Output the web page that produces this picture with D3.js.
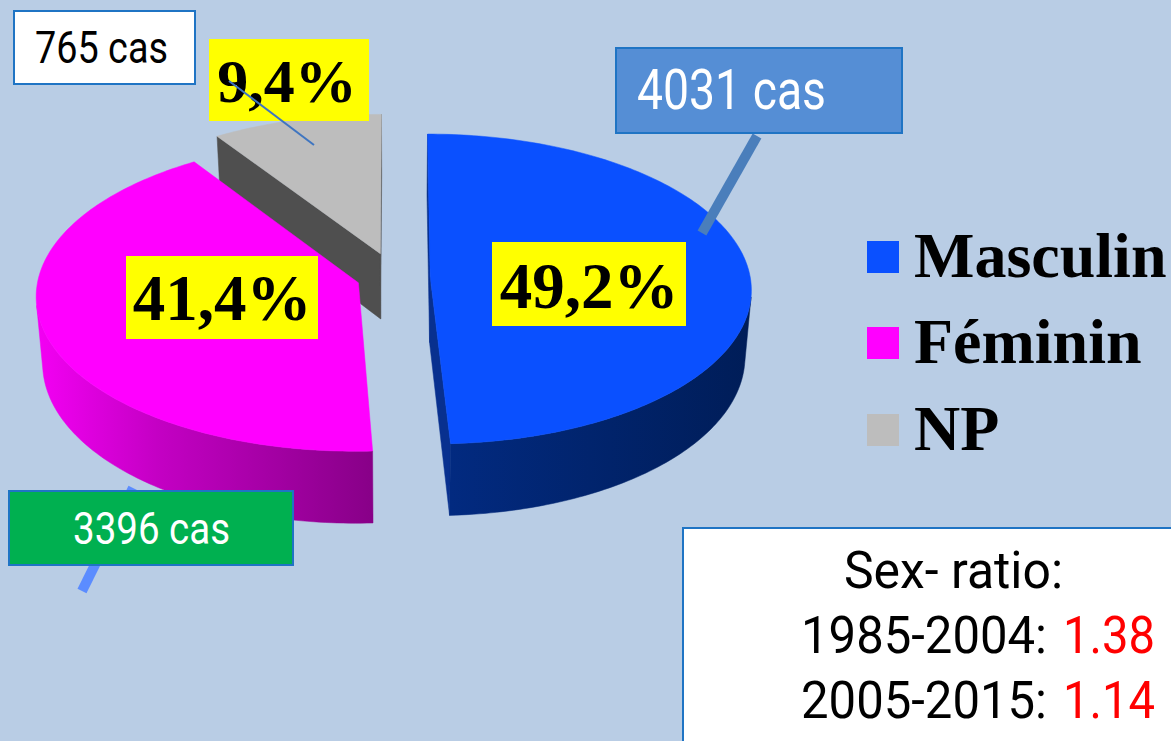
<!DOCTYPE html>
<html><head><meta charset="utf-8">
<script src="https://cdn.jsdelivr.net/npm/d3@7"></script>
<style>html,body{margin:0;padding:0;background:#b9cde5;overflow:hidden} svg{display:block}</style>
</head><body>
<svg id="c" width="1171" height="741"></svg>
<script>
// ---- data ----
const categories = ["Masculin", "Féminin", "NP"];
const cases = [4031, 3396, 765];
const percentLabels = ["49,2%", "41,4%", "9,4%"];
const caseLabels = ["4031 cas", "3396 cas", "765 cas"];
const ratioTitle = "Sex- ratio:";
const ratioPeriods = ["1985-2004", "2005-2015"];
const ratioValues = ["1.38", "1.14"];

// ---- styles ----
const topColors = ["#0a50ff", "#ff00ff", "#bdbdbd"];
const radialWallColors = ["#08308f", "#a000a0", "#4f4f4f"];
const explode = [0.11, 0.12, 0.16];

const svg = d3.select("#c");
svg.append("rect").attr("width", 1171).attr("height", 741).attr("fill", "#b9cde5");

const defs = svg.append("defs");
const gBlue = defs.append("linearGradient").attr("id", "wall0").attr("gradientUnits", "userSpaceOnUse")
  .attr("x1", 450).attr("x2", 750).attr("y1", 0).attr("y2", 0);
gBlue.append("stop").attr("offset", 0).attr("stop-color", "#022a80");
gBlue.append("stop").attr("offset", 1).attr("stop-color", "#001d58");
const gMag = defs.append("linearGradient").attr("id", "wall1").attr("gradientUnits", "userSpaceOnUse")
  .attr("x1", 40).attr("x2", 375).attr("y1", 0).attr("y2", 0);
gMag.append("stop").attr("offset", 0).attr("stop-color", "#f200f2");
gMag.append("stop").attr("offset", 0.35).attr("stop-color", "#c400c4");
gMag.append("stop").attr("offset", 1).attr("stop-color", "#870087");
const gGray = defs.append("linearGradient").attr("id", "wall2").attr("gradientUnits", "userSpaceOnUse")
  .attr("x1", 200).attr("x2", 400).attr("y1", 0).attr("y2", 0);
gGray.append("stop").attr("offset", 0).attr("stop-color", "#555");
gGray.append("stop").attr("offset", 1).attr("stop-color", "#444");

// ---- projection (perspective view of a tilted disc) ----
const cx = 395, cy = 277, rx = 320, ry = 154, k = 0.08, D = 66, alpha = 0.018;
function proj(u, v, bottom) {
  const s = 1 / (1 + k * v);
  let x = cx + rx * u * s, y = cy - ry * v * s;
  if (bottom) { y += D * s; x -= (x - cx) * alpha; }
  return [x, y];
}
function area(pts) {
  let a = 0;
  for (let i = 0; i < pts.length; i++) {
    const p = pts[i], q = pts[(i + 1) % pts.length];
    a += p[0] * q[1] - q[0] * p[1];
  }
  return a / 2;
}

const pie = d3.pie().sort(null).value(d => d);
const arcs = pie(cases);
const line = d3.line();
const wallLayer = svg.append("g");
const topLayer = svg.append("g");

arcs.forEach((a, i) => {
  const mid = (a.startAngle + a.endAngle) / 2;
  const eu = explode[i] * Math.sin(mid), ev = explode[i] * Math.cos(mid);
  const n = Math.max(8, Math.ceil((a.endAngle - a.startAngle) / (Math.PI / 180)));
  const plane = [[eu, ev]];
  for (let j = 0; j <= n; j++) {
    const t = a.startAngle + (a.endAngle - a.startAngle) * j / n;
    plane.push([eu + Math.sin(t), ev + Math.cos(t)]);
  }
  const top = plane.map(p => proj(p[0], p[1], false));
  const bot = plane.map(p => proj(p[0], p[1], true));
  const m = plane.length;
  // radial walls
  const radialEdges = [[0, 1], [m - 1, 0]];
  radialEdges.forEach(([p, q]) => {
    const quad = [top[p], top[q], bot[q], bot[p]];
    if (area(quad) < 0) {
      wallLayer.append("path").attr("d", line(quad) + "Z")
        .attr("fill", radialWallColors[i]).attr("stroke", radialWallColors[i]).attr("stroke-width", 0.5);
    }
  });
  // outer curved wall: contiguous visible runs
  let run = [];
  const flush = () => {
    if (run.length > 1) {
      const poly = run.map(j => top[j]).concat(run.slice().reverse().map(j => bot[j]));
      wallLayer.append("path").attr("d", line(poly) + "Z")
        .attr("fill", `url(#wall${i})`).attr("stroke", `url(#wall${i})`).attr("stroke-width", 0.5);
    }
    run = [];
  };
  for (let j = 1; j < m - 1; j++) {
    const quad = [top[j], top[j + 1], bot[j + 1], bot[j]];
    if (area(quad) < 0) {
      if (run.length === 0) run.push(j);
      run.push(j + 1);
    } else flush();
  }
  flush();
  topLayer.append("path").attr("d", line(top) + "Z").attr("fill", topColors[i])
    .attr("stroke", topColors[i]).attr("stroke-width", 0.5);
});

// ---- leader lines ----
const lead = svg.append("g");
lead.append("line").attr("x1", 757).attr("y1", 136).attr("x2", 702).attr("y2", 233)
  .attr("stroke", "#4a7ebb").attr("stroke-width", 10);
lead.append("line").attr("x1", 133).attr("y1", 488).attr("x2", 82).attr("y2", 591)
  .attr("stroke", "#5b8cff").attr("stroke-width", 10);

// ---- case boxes ----
const sansFont = "Roboto, 'Liberation Sans', sans-serif";
const serifFont = "'Liberation Serif', 'Times New Roman', serif";
const caseBoxes = [
  {x: 616, y: 48, w: 286, h: 85, fill: "#558ed5", color: "#fff", tx: 637, ty: 109, fs: 55, tl: 189},
  {x: 9, y: 491, w: 284, h: 74, fill: "#00b050", color: "#fff", tx: 73, ty: 544, fs: 45, tl: 157},
  {x: 14, y: 11, w: 181, h: 73, fill: "#ffffff", color: "#000", tx: 35, ty: 63, fs: 44, tl: 133}
];
caseBoxes.forEach((b, i) => {
  svg.append("rect").attr("x", b.x).attr("y", b.y).attr("width", b.w).attr("height", b.h)
    .attr("fill", b.fill).attr("stroke", "#1f74c4").attr("stroke-width", 2);
  svg.append("text").attr("x", b.tx).attr("y", b.ty).attr("font-family", sansFont)
    .attr("font-size", b.fs).attr("fill", b.color)
    .attr("textLength", b.tl).attr("lengthAdjust", "spacingAndGlyphs").text(caseLabels[i]);
});

// ---- percentage labels ----
const pctBoxes = [
  {x: 492, y: 242, w: 194, h: 84, tx: 589, ty: 308, fs: 65},
  {x: 126, y: 256, w: 192, h: 83, tx: 222, ty: 320, fs: 65},
  {x: 209, y: 39, w: 160, h: 82, tx: 287, ty: 102, fs: 62}
];
pctBoxes.forEach((b, i) => {
  svg.append("rect").attr("x", b.x).attr("y", b.y).attr("width", b.w).attr("height", b.h).attr("fill", "#ffff00");
  svg.append("text").attr("x", b.tx).attr("y", b.ty).attr("text-anchor", "middle")
    .attr("font-family", serifFont).attr("font-weight", "bold").attr("font-size", b.fs)
    .attr("fill", "#000").text(percentLabels[i]);
});
// thin leader for NP
svg.append("line").attr("x1", 229).attr("y1", 81).attr("x2", 314).attr("y2", 145)
  .attr("stroke", "#3f75c0").attr("stroke-width", 2);

// ---- legend ----
const legend = svg.append("g");
const legendY = [241, 327, 414];
categories.forEach((c, i) => {
  legend.append("rect").attr("x", 867).attr("y", legendY[i]).attr("width", 32).attr("height", 32).attr("fill", topColors[i]);
  legend.append("text").attr("x", 914).attr("y", legendY[i] + 36).attr("font-family", serifFont)
    .attr("font-weight", "bold").attr("font-size", 64).attr("fill", "#000").text(c);
});

// ---- sex ratio box ----
svg.append("rect").attr("x", 683).attr("y", 528).attr("width", 520).attr("height", 240)
  .attr("fill", "#fff").attr("stroke", "#1f74c4").attr("stroke-width", 2);
svg.append("text").attr("x", 844).attr("y", 588).attr("font-family", sansFont).attr("font-size", 52)
  .attr("fill", "#000").attr("textLength", 219).attr("lengthAdjust", "spacingAndGlyphs").text(ratioTitle);
ratioPeriods.forEach((p, i) => {
  const y = 653 + i * 65;
  svg.append("text").attr("x", 801).attr("y", y).attr("font-family", sansFont)
    .attr("font-size", 52).attr("fill", "#000")
    .attr("textLength", 246).attr("lengthAdjust", "spacingAndGlyphs").text(p + ":");
  svg.append("text").attr("x", 1063).attr("y", y).attr("font-family", sansFont)
    .attr("font-size", 52).attr("fill", "#ff0000")
    .attr("textLength", 92).attr("lengthAdjust", "spacingAndGlyphs").text(ratioValues[i]);
});
</script>
</body></html>
